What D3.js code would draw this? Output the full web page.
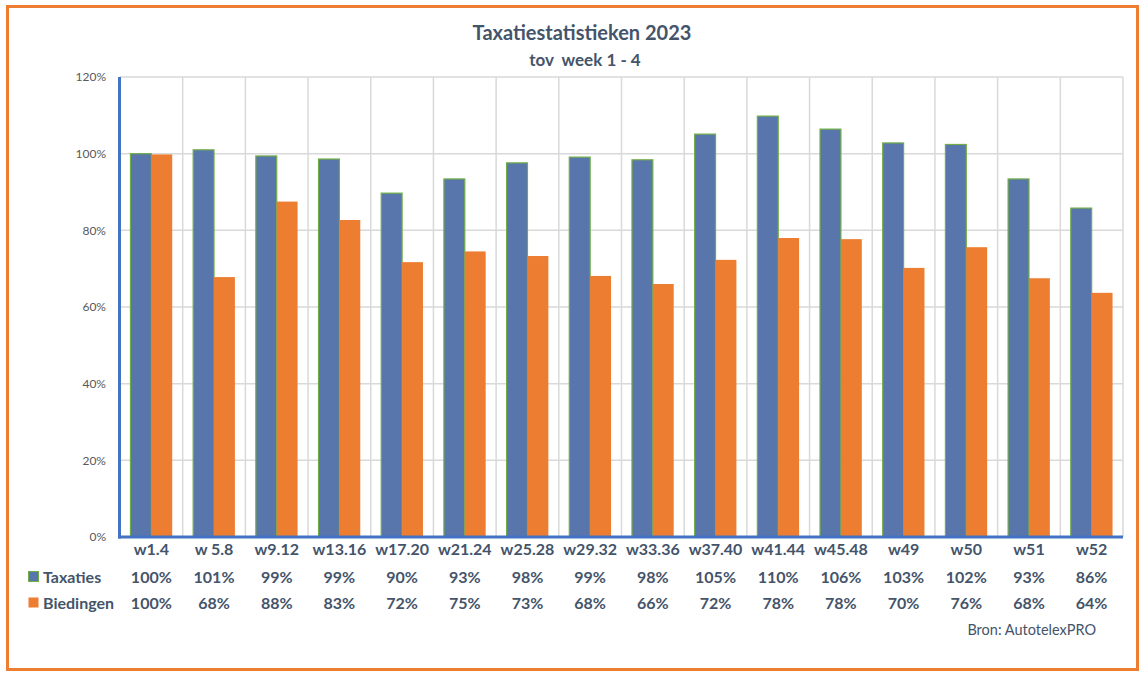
<!DOCTYPE html>
<html>
<head>
<meta charset="utf-8">
<script src="https://cdn.jsdelivr.net/npm/d3@7"></script>
<style>
  body { margin: 0; background: #fff; }
  text { font-family: Lato, "Open Sans", sans-serif; }
</style>
</head>
<body>
<div id="chart"></div>
<script>
// chart values
const weeks = ["w1.4","w 5.8","w9.12","w13.16","w17.20","w21.24","w25.28","w29.32","w33.36","w37.40","w41.44","w45.48","w49","w50","w51","w52"];
const taxaties = [100,101,99.4,98.6,89.7,93.4,97.6,99.1,98.4,105.1,109.8,106.4,102.8,102.4,93.4,85.8];
const biedingen = [99.8,67.8,87.5,82.7,71.7,74.5,73.3,68.1,66.0,72.3,78.0,77.7,70.2,75.6,67.5,63.7];
const seriesNames = ["Taxaties","Biedingen"];
const yTicks = [0,20,40,60,80,100,120];

const W = 1143, H = 676
const pLeft = 120, pRight = 1123, pTop = 77, pBottom = 537
const textCol = "#44546A"
const colors = {Taxaties: "#5875AC", Biedingen: "#ED7D31"}

const svg = d3.select("#chart").append("svg").attr("width", W).attr("height", H)

const x0 = d3.scaleBand().domain(weeks).range([pLeft, pRight]).paddingInner(0.334).paddingOuter(0.167)
const x1 = d3.scaleBand().domain(seriesNames).range([0, x0.bandwidth()])
const y = d3.scaleLinear().domain([0, 120]).range([pBottom, pTop])
const step = x0.step()

// gridlines
svg.append("g").selectAll("line")
  .data(yTicks.slice(1))
  .enter().append("line")
  .attr("x1", pLeft).attr("x2", pRight)
  .attr("y1", d => y(d)).attr("y2", d => y(d))
  .attr("stroke", "#d9d9d9").attr("stroke-width", 1.5)

svg.append("g").selectAll("line")
  .data(weeks)
  .enter().append("line")
  .attr("x1", d => x0(d) + x0.bandwidth() + step * 0.167)
  .attr("x2", d => x0(d) + x0.bandwidth() + step * 0.167)
  .attr("y1", pTop).attr("y2", pBottom)
  .attr("stroke", "#d9d9d9").attr("stroke-width", 1.5)

// y tick labels
svg.append("g").selectAll("text")
  .data(yTicks)
  .enter().append("text")
  .attr("x", 106).attr("y", d => y(d))
  .attr("dy", "0.35em")
  .attr("text-anchor", "end")
  .attr("font-size", 12)
  .attr("fill", "#595959")
  .text(d => d + "%")

// bars
const rows = weeks.map((w, i) => ({week: w, Taxaties: taxaties[i], Biedingen: biedingen[i]}))
const groups = svg.append("g").selectAll("g")
  .data(rows)
  .enter().append("g")
  .attr("transform", d => `translate(${x0(d.week)},0)`)

groups.selectAll("rect")
  .data(d => seriesNames.map(s => ({key: s, value: d[s]})))
  .enter().append("rect")
  .attr("x", d => x1(d.key))
  .attr("y", d => y(d.value))
  .attr("width", x1.bandwidth())
  .attr("height", d => pBottom - y(d.value))
  .attr("fill", d => colors[d.key])
  .attr("stroke", d => d.key == "Taxaties" ? "#70AD47" : "none")
  .attr("stroke-width", 1.2)

// axis lines
svg.append("line").attr("x1", pLeft - 0.5).attr("x2", pLeft - 0.5).attr("y1", pTop).attr("y2", pBottom + 1.5)
  .attr("stroke", "#4472C4").attr("stroke-width", 3)
svg.append("line").attr("x1", pLeft - 2).attr("x2", pRight).attr("y1", pBottom).attr("y2", pBottom)
  .attr("stroke", "#4472C4").attr("stroke-width", 3)

// data table under the chart
const fmt = d3.format(".0%")
const cx = d => x0(d) + x0.bandwidth() / 2
svg.append("g").selectAll("text")
  .data(weeks)
  .enter().append("text")
  .attr("x", cx).attr("y", 549).attr("dy", "0.35em")
  .attr("text-anchor", "middle").attr("font-size", 16).attr("font-weight", "bold")
  .attr("fill", textCol)
  .text(d => d)

const tableRows = [{name: "Taxaties", vals: taxaties, y: 577}, {name: "Biedingen", vals: biedingen, y: 603}]
tableRows.forEach(r => {
  svg.append("rect").attr("x", 28.5).attr("y", r.y - 5.5).attr("width", 10).attr("height", 10)
    .attr("fill", colors[r.name])
    .attr("stroke", r.name == "Taxaties" ? "#70AD47" : "none").attr("stroke-width", 1)
  svg.append("text").attr("x", 43).attr("y", r.y).attr("dy", "0.35em")
    .attr("font-size", 16).attr("font-weight", "bold").attr("fill", textCol)
    .text(r.name)
  svg.append("g").selectAll("text")
    .data(r.vals)
    .enter().append("text")
    .attr("x", (d, i) => cx(weeks[i])).attr("y", r.y).attr("dy", "0.35em")
    .attr("text-anchor", "middle").attr("font-size", 16).attr("font-weight", "bold")
    .attr("fill", textCol)
    .text(d => fmt(Math.round(d) / 100))
})

// titles
svg.append("text").attr("x", 582).attr("y", 33).attr("dy", "0.35em").attr("text-anchor", "middle")
  .attr("font-size", 20).attr("font-weight", "bold").attr("fill", textCol)
  .text("Taxatiestatistieken 2023")
svg.append("text").attr("x", 585).attr("y", 60).attr("dy", "0.35em").attr("text-anchor", "middle")
  .attr("font-size", 17).attr("font-weight", "bold").attr("fill", textCol)
  .style("white-space", "pre")
  .text("tov  week 1 - 4")

svg.append("text").attr("x", 1096).attr("y", 630).attr("dy", "0.35em").attr("text-anchor", "end")
  .attr("font-size", 14.5).attr("fill", textCol)
  .text("Bron: AutotelexPRO")

// orange frame
svg.append("rect").attr("x", 7.5).attr("y", 6.5).attr("width", 1130).attr("height", 663)
  .attr("fill", "none").attr("stroke", "#ED7D31").attr("stroke-width", 3)
</script>
</body>
</html>
